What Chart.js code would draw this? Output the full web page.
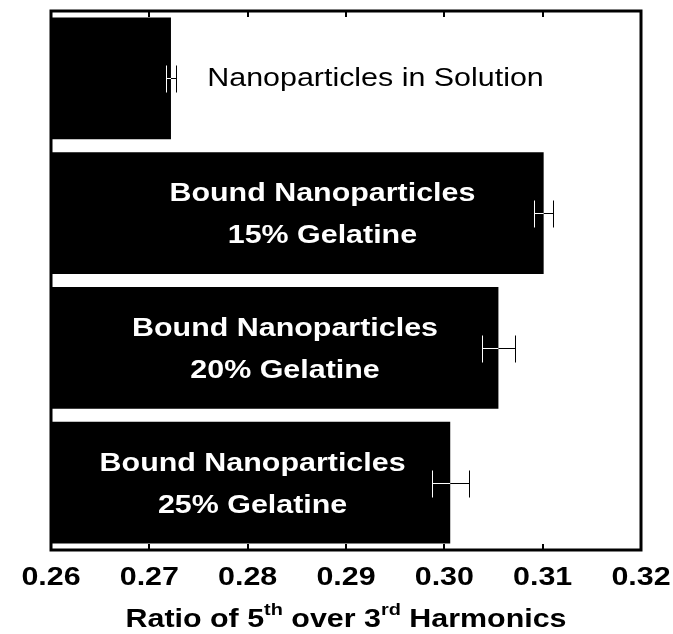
<!DOCTYPE html>
<html>
<head>
<meta charset="utf-8">
<script src="https://cdn.jsdelivr.net/npm/chart.js@4"></script>
<style>
  html, body { margin: 0; padding: 0; background: #fff; }
  #wrap { width: 673px; height: 634px; }
</style>
</head>
<body>
<div id="wrap"><canvas id="ratio-chart"></canvas></div>
<script>
// data
const samples = ['Nanoparticles in Solution', 'Bound 15%', 'Bound 20%', 'Bound 25%'];
const ratios = [0.2722, 0.3101, 0.3055, 0.3006];
const ratioErrors = [0.0005, 0.00097, 0.0017, 0.0019];
const xTicks = [0.26, 0.27, 0.28, 0.29, 0.30, 0.31, 0.32];
const barLabels = [
    ['Nanoparticles in Solution'],
    ['Bound Nanoparticles', '15% Gelatine'],
    ['Bound Nanoparticles', '20% Gelatine'],
    ['Bound Nanoparticles', '25% Gelatine']
];
// where each label sits, in x-axis units
const labelAt = [0.2930, 0.2876, 0.2838, 0.2805];

const FONT = "'Liberation Sans', Arial, Helvetica, sans-serif";
const STRETCH = 1.17; // the reference text is wide for its height

function wideText(ctx, text, x, y, align) {
    ctx.save();
    ctx.translate(x, y);
    ctx.scale(STRETCH, 1);
    ctx.textAlign = align || 'center';
    ctx.fillText(text, 0, 0);
    ctx.restore();
}

// error bars and inner ticks: black on white, white on the bars
function strokeMarks(ctx, chart) {
    const area = chart.chartArea;
    const x = chart.scales.x;
    const y = chart.scales.y;
    ctx.lineWidth = 1;
    ctx.beginPath();
    ratios.forEach((v, i) => {
        const cy = Math.round(y.getPixelForValue(i)) + 0.5;
        const lo = Math.round(x.getPixelForValue(v - ratioErrors[i])) + 0.5;
        const hi = Math.round(x.getPixelForValue(v + ratioErrors[i])) + 0.5;
        ctx.moveTo(lo, cy); ctx.lineTo(hi, cy);
        ctx.moveTo(lo, cy - 13); ctx.lineTo(lo, cy + 14);
        ctx.moveTo(hi, cy - 13); ctx.lineTo(hi, cy + 14);
    });
    ctx.stroke();
    ctx.lineWidth = 2;
    ctx.beginPath();
    xTicks.slice(1, -1).forEach(t => {
        const px = Math.round(x.getPixelForValue(t));
        ctx.moveTo(px, area.bottom); ctx.lineTo(px, area.bottom - 6);
        ctx.moveTo(px, area.top); ctx.lineTo(px, area.top + 6);
    });
    ctx.stroke();
}

const extras = {
    id: 'extras',
    afterDatasetsDraw(chart) {
        const ctx = chart.ctx;
        const area = chart.chartArea;
        const x = chart.scales.x;
        const y = chart.scales.y;
        const bars = chart.getDatasetMeta(0).data;

        ctx.save();
        ctx.strokeStyle = '#000';
        strokeMarks(ctx, chart);
        ctx.restore();

        ctx.save();
        ctx.beginPath();
        bars.forEach(b => {
            ctx.rect(b.base, b.y - b.height / 2, b.x - b.base, b.height);
        });
        ctx.clip();
        ctx.strokeStyle = '#fff';
        strokeMarks(ctx, chart);
        ctx.restore();

        // frame
        ctx.save();
        ctx.strokeStyle = '#000';
        ctx.lineWidth = 3;
        ctx.strokeRect(area.left, area.top, area.right - area.left, area.bottom - area.top);
        ctx.restore();

        // texts on the bars
        ctx.save();
        ctx.textBaseline = 'middle';
        barLabels.forEach((lines, i) => {
            const cx = x.getPixelForValue(labelAt[i]);
            const cy = y.getPixelForValue(i);
            if (lines.length === 1) {
                ctx.font = '26px ' + FONT;
                ctx.fillStyle = '#000';
                wideText(ctx, lines[0], cx, cy);
            } else {
                ctx.font = 'bold 26px ' + FONT;
                ctx.fillStyle = '#fff';
                wideText(ctx, lines[0], cx, cy - 19);
                wideText(ctx, lines[1], cx, cy + 23);
            }
        });
        ctx.restore();

        // tick labels
        ctx.save();
        ctx.font = 'bold 26px ' + FONT;
        ctx.fillStyle = '#000';
        ctx.textBaseline = 'alphabetic';
        xTicks.forEach(t => {
            wideText(ctx, t.toFixed(2), x.getPixelForValue(t), 585);
        });
        ctx.restore();

        // x axis title with superscripts
        ctx.save();
        const parts = [
            ['Ratio of 5', false], ['th', true], [' over 3', false], ['rd', true], [' Harmonics', false]
        ];
        const big = 'bold 26px ' + FONT;
        const small = 'bold 17px ' + FONT;
        let total = 0;
        parts.forEach(p => { ctx.font = p[1] ? small : big; total += ctx.measureText(p[0]).width; });
        total *= STRETCH;
        let px = (area.left + area.right) / 2 - total / 2;
        const base = 627;
        ctx.fillStyle = '#000';
        ctx.textBaseline = 'alphabetic';
        parts.forEach(p => {
            ctx.font = p[1] ? small : big;
            wideText(ctx, p[0], px, p[1] ? base - 12 : base, 'left');
            px += ctx.measureText(p[0]).width * STRETCH;
        });
        ctx.restore();
    }
};

new Chart(document.querySelector('#ratio-chart').getContext('2d'), {
    type: 'bar',
    data: {
        labels: samples,
        datasets: [{
            data: ratios,
            base: 0.26,
            backgroundColor: '#000',
            borderWidth: 0,
            barPercentage: 0.905,
            categoryPercentage: 1.0
        }]
    },
    options: {
        indexAxis: 'y',
        responsive: true,
        maintainAspectRatio: false,
        animation: false,
        layout: { padding: { top: 11, right: 32, left: 0, bottom: 0 } },
        plugins: { legend: { display: false }, tooltip: { enabled: false } },
        scales: {
            x: {
                min: 0.26,
                max: 0.32,
                afterFit: s => { s.height = 84; s.paddingLeft = 0; s.paddingRight = 0; },
                grid: { display: false, drawTicks: false },
                border: { display: false },
                ticks: { display: false }
            },
            y: {
                afterFit: s => { s.width = 51; },
                grid: { display: false },
                border: { display: false },
                ticks: { display: false }
            }
        }
    },
    plugins: [extras]
});
</script>
</body>
</html>
